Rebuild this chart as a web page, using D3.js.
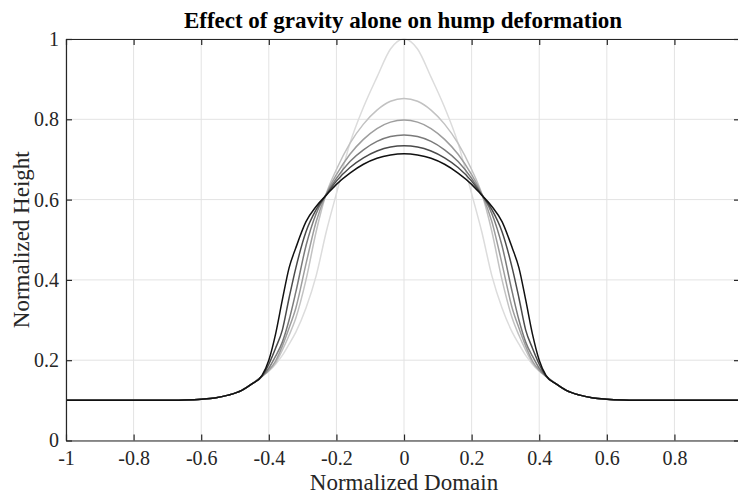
<!DOCTYPE html>
<html>
<head>
<meta charset="utf-8">
<script src="https://cdn.jsdelivr.net/npm/d3@7"></script>
<style>
  html, body { margin: 0; padding: 0; background: #fff; }
  svg { display: block; }
  text { font-family: "Liberation Serif", "Times New Roman", serif; }
</style>
</head>
<body>
<svg id="chart" width="738" height="494"></svg>
<script>
// Normalized positions along the domain
const domainX = [-1, -0.8, -0.7, -0.65, -0.6, -0.56, -0.52, -0.48, -0.45,
  -0.42, -0.40, -0.38, -0.36, -0.34, -0.32, -0.29, -0.26, -0.23, -0.2, -0.16, -0.12, -0.08, -0.04,
  0,
  0.04, 0.08, 0.12, 0.16, 0.2, 0.23, 0.26, 0.29, 0.32, 0.34, 0.36, 0.38, 0.40, 0.42,
  0.45, 0.48, 0.52, 0.56, 0.6, 0.65, 0.7, 0.8, 0.99];

// Hump profiles, from the initial shape to the most settled one
const height0 = [0.100, 0.100, 0.100, 0.101, 0.103, 0.106, 0.113, 0.125, 0.141,
  0.160, 0.173, 0.190, 0.212, 0.240, 0.270, 0.330, 0.410, 0.520, 0.615, 0.740, 0.830, 0.905, 0.975,
  1.000,
  0.975, 0.905, 0.830, 0.740, 0.615, 0.520, 0.410, 0.330, 0.270, 0.240, 0.212, 0.190, 0.173, 0.160,
  0.141, 0.125, 0.113, 0.106, 0.103, 0.101, 0.100, 0.100, 0.100];
const height1 = [0.100, 0.100, 0.100, 0.101, 0.103, 0.106, 0.113, 0.125, 0.141,
  0.160, 0.173, 0.193, 0.225, 0.262, 0.305, 0.400, 0.520, 0.615, 0.675, 0.740, 0.788, 0.823, 0.845,
  0.852,
  0.845, 0.823, 0.788, 0.740, 0.675, 0.615, 0.520, 0.400, 0.305, 0.262, 0.225, 0.193, 0.173, 0.160,
  0.141, 0.125, 0.113, 0.106, 0.103, 0.101, 0.100, 0.100, 0.100];
const height2 = [0.100, 0.100, 0.100, 0.101, 0.103, 0.106, 0.113, 0.125, 0.141,
  0.160, 0.175, 0.198, 0.235, 0.280, 0.330, 0.440, 0.545, 0.614, 0.662, 0.713, 0.750, 0.777, 0.793,
  0.798,
  0.793, 0.777, 0.750, 0.713, 0.662, 0.614, 0.545, 0.440, 0.330, 0.280, 0.235, 0.198, 0.175, 0.160,
  0.141, 0.125, 0.113, 0.106, 0.103, 0.101, 0.100, 0.100, 0.100];
const height3 = [0.100, 0.100, 0.100, 0.101, 0.103, 0.106, 0.113, 0.125, 0.141,
  0.160, 0.180, 0.210, 0.245, 0.300, 0.370, 0.485, 0.565, 0.613, 0.653, 0.695, 0.724, 0.745, 0.757,
  0.761,
  0.757, 0.745, 0.724, 0.695, 0.653, 0.613, 0.565, 0.485, 0.370, 0.300, 0.245, 0.210, 0.180, 0.160,
  0.141, 0.125, 0.113, 0.106, 0.103, 0.101, 0.100, 0.100, 0.100];
const height4 = [0.100, 0.100, 0.100, 0.101, 0.103, 0.106, 0.113, 0.125, 0.141,
  0.160, 0.190, 0.230, 0.275, 0.355, 0.430, 0.520, 0.575, 0.612, 0.646, 0.680, 0.704, 0.721, 0.731,
  0.734,
  0.731, 0.721, 0.704, 0.680, 0.646, 0.612, 0.575, 0.520, 0.430, 0.355, 0.275, 0.230, 0.190, 0.160,
  0.141, 0.125, 0.113, 0.106, 0.103, 0.101, 0.100, 0.100, 0.100];
const height5 = [0.100, 0.100, 0.100, 0.101, 0.103, 0.106, 0.113, 0.125, 0.141,
  0.162, 0.200, 0.265, 0.350, 0.430, 0.480, 0.545, 0.583, 0.611, 0.638, 0.666, 0.688, 0.703, 0.711,
  0.714,
  0.711, 0.703, 0.688, 0.666, 0.638, 0.611, 0.583, 0.545, 0.480, 0.430, 0.350, 0.265, 0.200, 0.162,
  0.141, 0.125, 0.113, 0.106, 0.103, 0.101, 0.100, 0.100, 0.100];

const profiles = [height0, height1, height2, height3, height4, height5];
const profileColors = ["#dcdcdc", "#c2c2c2", "#9e9e9e", "#7a7a7a", "#4a4a4a", "#111111"];

const xTicks = [-1, -0.8, -0.6, -0.4, -0.2, 0, 0.2, 0.4, 0.6, 0.8];
const yTicks = [0, 0.2, 0.4, 0.6, 0.8, 1];

const titleText = "Effect of gravity alone on hump deformation";
const xLabelText = "Normalized Domain";
const yLabelText = "Normalized Height";

// Layout of the plot box
const boxLeft = 66, boxRight = 740, boxTop = 39, boxBottom = 440.5;

const svg = d3.select("#chart");

const x = d3.scaleLinear().domain([-1, 0.994]).range([boxLeft, boxRight]);
const y = d3.scaleLinear().domain([0, 1]).range([boxBottom, boxTop]);

// Grid
const grid = svg.append("g").attr("stroke", "#e3e3e3").attr("stroke-width", 1);
grid.selectAll("line.gx").data(xTicks).join("line")
  .attr("class", "gx")
  .attr("x1", d => x(d)).attr("x2", d => x(d))
  .attr("y1", boxTop).attr("y2", boxBottom);
grid.selectAll("line.gy").data(yTicks).join("line")
  .attr("class", "gy")
  .attr("x1", boxLeft).attr("x2", boxRight)
  .attr("y1", d => y(d)).attr("y2", d => y(d));

// Profiles
svg.append("clipPath").attr("id", "plot-clip")
  .append("rect").attr("x", boxLeft).attr("y", boxTop - 1)
  .attr("width", boxRight - boxLeft).attr("height", boxBottom - boxTop + 1);

const line = d3.line()
  .x((d, i) => x(domainX[i]))
  .y(d => y(d))
  .curve(d3.curveMonotoneX);

svg.append("g").attr("clip-path", "url(#plot-clip)")
  .selectAll("path").data(profiles).join("path")
  .attr("d", d => line(d))
  .attr("fill", "none")
  .attr("stroke", (d, i) => profileColors[i])
  .attr("stroke-width", 1.5)
  .attr("stroke-linejoin", "round");

// Axes (ticks point into the plot box)
function styleAxis(g) {
  g.selectAll(".domain").attr("stroke", "#262626").attr("stroke-width", 1.2);
  g.selectAll(".tick line").attr("stroke", "#262626").attr("stroke-width", 1.2);
  g.selectAll(".tick text")
    .attr("fill", "#262626")
    .style("font-family", "'Liberation Serif', 'Times New Roman', serif")
    .style("font-size", "20px");
}

svg.append("g").attr("transform", `translate(0,${boxBottom})`)
  .call(d3.axisBottom(x).tickValues(xTicks).tickSize(-6).tickSizeOuter(0).tickPadding(10)
    .tickFormat(d => String(d)))
  .call(styleAxis);

svg.append("g").attr("transform", `translate(${boxLeft},0)`)
  .call(d3.axisLeft(y).tickValues(yTicks).tickSize(-6).tickSizeOuter(0).tickPadding(7)
    .tickFormat(d => String(d)))
  .call(styleAxis);

svg.append("g").attr("transform", `translate(0,${boxTop})`)
  .call(d3.axisTop(x).tickValues(xTicks).tickSize(-6).tickSizeOuter(0).tickFormat(""))
  .call(styleAxis);

svg.append("g").attr("transform", `translate(${boxRight},0)`)
  .call(d3.axisRight(y).tickValues(yTicks).tickSize(-6).tickSizeOuter(0).tickFormat(""))
  .call(styleAxis);

// Titles
svg.append("text")
  .attr("x", 403).attr("y", 28)
  .attr("text-anchor", "middle")
  .style("font-size", "23px").style("font-weight", "bold")
  .attr("fill", "#000")
  .text(titleText);

svg.append("text")
  .attr("x", 404).attr("y", 490)
  .attr("text-anchor", "middle")
  .style("font-size", "23px")
  .attr("fill", "#262626")
  .text(xLabelText);

svg.append("text")
  .attr("transform", `translate(29,${(boxTop + boxBottom) / 2}) rotate(-90)`)
  .attr("text-anchor", "middle")
  .style("font-size", "23px")
  .attr("fill", "#262626")
  .text(yLabelText);
</script>
</body>
</html>
